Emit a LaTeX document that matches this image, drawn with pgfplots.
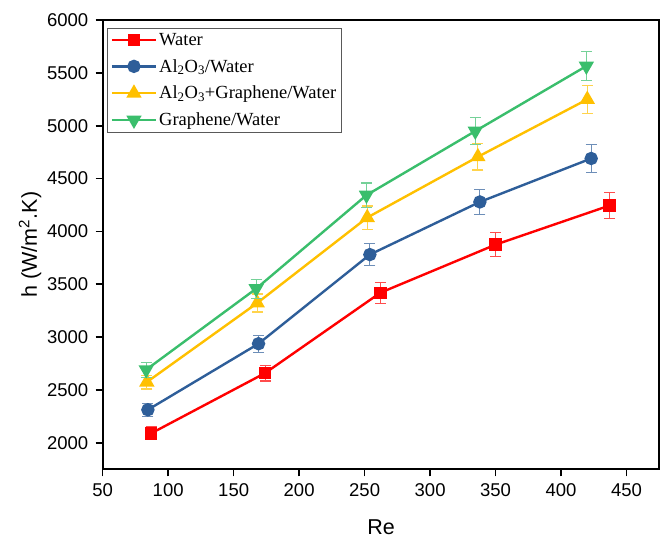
\documentclass[border=0pt]{standalone}
\usepackage{fontspec}
\setmainfont{Liberation Sans}
\newfontfamily\legendfont{Liberation Serif}
\usepackage{pgfplots}
\pgfplotsset{compat=1.18}
\definecolor{cwater}{RGB}{255,0,0}
\definecolor{calo}{RGB}{46,94,153}
\definecolor{chyb}{RGB}{255,192,0}
\definecolor{cgra}{RGB}{58,190,108}

\begin{document}
\begin{tikzpicture}
\begin{axis}[
  name=ax,
  scale only axis,
  width=556.6pt,height=449.3pt,
  xmin=50,xmax=475,ymin=1750,ymax=6000,
  xtick={50,100,...,450},
  ytick={2000,2500,...,6000},
  clip mode=individual,
  axis line style={line width=1.8pt},
  tick align=outside,
  major tick length=7pt,
  xtick style={draw=black,line width=1.6pt},
  ytick style={draw=black,line width=1.6pt},
  xtick pos=lower,ytick pos=left,
  tick label style={font=\fontsize{18.5}{21}\selectfont},
  xticklabel style={yshift=-4pt},
  yticklabel style={xshift=-4pt},
  /pgf/number format/assume math mode=true,
  /pgf/number format/1000 sep={},
  xlabel={Re},
  ylabel={h (W/m\textsuperscript{2}.K)},
  label style={font=\fontsize{21.5}{24}\selectfont},
  xlabel style={at={(axis description cs:0.5,-0.129)},anchor=center},
  ylabel style={at={(axis description cs:-0.1306,0.5)},anchor=center},
  legend cell align=left,
  legend style={at={(axis description cs:0.0083,0.983)},anchor=north west,
    draw=black!65,line width=0.9pt,fill=white,
    font=\fontsize{18.5}{22}\selectfont\legendfont,
    row sep=8.5pt,inner sep=3pt},
  legend image code/.code={\draw[mark repeat=2,mark phase=2]
    plot coordinates {(0pt,0pt) (22pt,0pt) (44pt,0pt)};},
]
% tick marks outside the box
\pgfplotsinvokeforeach{50,100,...,450}{\draw[line width=1.6pt] (axis cs:#1,1750) -- ([yshift=-7pt]axis cs:#1,1750);}
\pgfplotsinvokeforeach{2000,2500,...,6000}{\draw[line width=1.6pt] (axis cs:50,#1) -- ([xshift=-7pt]axis cs:50,#1);}

\addplot[color=cwater,line width=2.4pt,mark=square*,mark size=5pt,
  error bars/.cd,y dir=both,y explicit,
  error bar style={line width=1.1pt,cwater!70},
  error mark options={rotate=90,mark size=5.5pt,line width=1.1pt}] coordinates {
  (87,2090) +- (0,60)
  (174,2660) +- (0,75)
  (262,3420) +- (0,100)
  (350,3875) +- (0,115)
  (437,4245) +- (0,125)
};
\addlegendentry{Water}
\addplot[color=calo,line width=2.4pt,mark=*,mark size=5.5pt,
  error bars/.cd,y dir=both,y explicit,
  error bar style={line width=1.1pt,calo!70},
  error mark options={rotate=90,mark size=5.5pt,line width=1.1pt}] coordinates {
  (84.5,2313) +- (0,60)
  (169,2938) +- (0,80)
  (254,3781) +- (0,105)
  (338,4279) +- (0,120)
  (423,4690) +- (0,130)
};
\addlegendentry{Al\textsubscript{2}O\textsubscript{3}/Water}
\addplot[color=chyb,line width=2.4pt,mark=triangle*,mark size=6.5pt,
  error bars/.cd,y dir=both,y explicit,
  error bar style={line width=1.1pt,chyb!70},
  error mark options={rotate=90,mark size=5.5pt,line width=1.1pt}] coordinates {
  (83.7,2575) +- (0,65)
  (168,3323) +- (0,85)
  (252,4131) +- (0,110)
  (336.5,4706) +- (0,125)
  (420,5249) +- (0,135)
};
\addlegendentry{Al\textsubscript{2}O\textsubscript{3}+Graphene/Water}
\addplot[color=cgra,line width=2.4pt,mark=triangle*,mark options={rotate=180},mark size=6.5pt,
  error bars/.cd,y dir=both,y explicit,
  error bar style={line width=1.1pt,cgra!70},
  error mark options={rotate=90,mark size=5.5pt,line width=1.1pt}] coordinates {
  (83.2,2692) +- (0,70)
  (167.2,3459) +- (0,90)
  (251.4,4343) +- (0,115)
  (334.5,4949) +- (0,130)
  (419.3,5564) +- (0,140)
};
\addlegendentry{Graphene/Water}
\end{axis}
\path ([xshift=-102.7pt,yshift=-66.7pt]ax.south west) rectangle ([xshift=2.7pt,yshift=20pt]ax.north east);
\end{tikzpicture}
\end{document}
